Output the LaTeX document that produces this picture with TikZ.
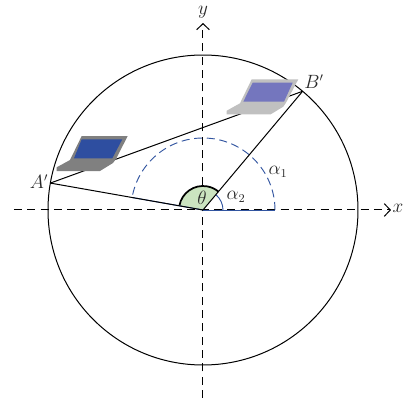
\documentclass[tikz,border=0pt]{standalone}
\usetikzlibrary{arrows.meta}
\definecolor{arcblue}{RGB}{50,85,160}
\definecolor{wedgegreen}{RGB}{203,228,192}
\definecolor{lapgray}{RGB}{128,128,128}
\definecolor{lapblue}{RGB}{46,78,160}
\definecolor{lapsilver}{RGB}{192,192,192}
\definecolor{lapviolet}{RGB}{116,118,190}
\definecolor{labelgray}{RGB}{40,40,40}

\begin{document}
\begin{tikzpicture}[x=0.75pt,y=0.75pt,line width=0.75pt,
    axisline/.style={black,dash pattern=on 6pt off 4pt,-{Straight Barb[length=4.5pt,width=9.5pt]}},
    bluearc/.style={arcblue,line width=0.7pt},
    ptlabel/.style={text=labelgray,inner sep=0pt,font=\fontsize{13.5}{15}\selectfont}]
  \useasboundingbox (-203,-194) rectangle (202,210);
  \coordinate (O) at (0,0);
  \coordinate (A) at (170:155);
  \coordinate (B) at (50:155);
  \coordinate (Al) at (170:72);
  \coordinate (Xe) at (-189,0);
  \coordinate (Xt) at (188,0);
  \coordinate (Ye) at (0,-188);
  \coordinate (Yt) at (0,187);
  \coordinate (Ra) at (72,0);
  \coordinate (Rs) at (20,0);
  % circle and axes
  \draw (O) circle (155);
  \draw[bluearc] (O) -- (Ra);
  \draw[axisline] (Xe) -- (Xt);
  \draw[axisline] (Ye) -- (Yt);
  % angle
  \fill[wedgegreen] (O) -- (170:24) arc (170:50:24) -- cycle;
  \draw[line width=1.3pt] (170:24) arc (170:50:24);
  \draw[bluearc,dash pattern=on 6pt off 3.5pt] (Ra) arc (0:170:72);
  \draw[bluearc] (Rs) arc (0:50:20);
  \draw[bluearc,yshift=-0.4pt] (O) -- (Al);
  \draw (A) -- (B);
  \draw (O) -- (A);
  \draw (O) -- (B);
  % left laptop
  \fill[lapgray] (-121.3,74) -- (-75.3,74) -- (-87,51) -- (-90,47) -- (-103,39) -- (-146.3,39) -- (-146.3,42.7) -- (-133,50) -- cycle;
  \fill[lapblue] (-121.3,70.7) -- (-80.7,70.7) -- (-90.7,51.7) -- (-129,51.7) -- cycle;
  % right laptop
  \fill[lapsilver] (48.7,130.7) -- (95.3,130.7) -- (83,107.3) -- (80.3,103.3) -- (67.7,95.7) -- (23.7,95.7) -- (23.7,99.3) -- (37,106.7) -- cycle;
  \fill[lapviolet] (49.7,127.3) -- (89.7,127.3) -- (81,108.3) -- (40.3,108.3) -- cycle;
  % labels
  \node[ptlabel] (lblA) at (-164,28) {$A'$};
  \node[ptlabel] (lblB) at (111,128) {$B'$};
  \node[ptlabel] (lblx) at (195,2) {$x$};
  \node[ptlabel] (lbly) at (0,198) {$y$};
  \node[ptlabel] (lblt) at (-1,12) {$\theta$};
  \node[ptlabel] (lbla) at (75,38) {$\alpha_1$};
  \node[ptlabel] (lblb) at (33,13) {$\alpha_2$};
\end{tikzpicture}
\end{document}
